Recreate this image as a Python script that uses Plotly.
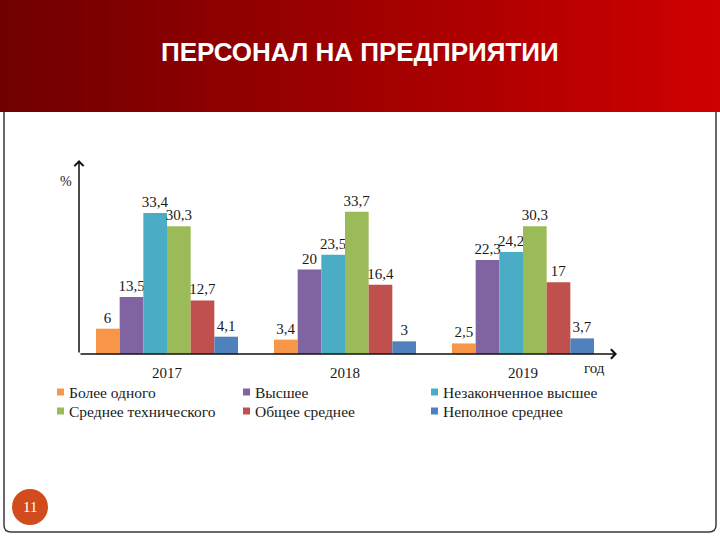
import plotly.graph_objects as go

# ---- data ----
years = ["2017", "2018", "2019"]
series_names = ["Более одного", "Высшее", "Незаконченное высшее",
                "Среднее технического", "Общее среднее", "Неполное среднее"]
values = [
    [6, 3.4, 2.5],
    [13.5, 20, 22.3],
    [33.4, 23.5, 24.2],
    [30.3, 33.7, 30.3],
    [12.7, 16.4, 17],
    [4.1, 3, 3.7],
]
title_text = "ПЕРСОНАЛ НА ПРЕДПРИЯТИИ"
page_number = "11"
y_label = "%"
x_label = "год"

# ---- style ----
colors = ["#f79646", "#8064a2", "#4bacc6", "#9bbb59", "#c0504d", "#4f81bd"]
W, H = 720, 540
L, R, T, B = 79, 617, 160, 354
SERIF = "Liberation Serif, Times New Roman, serif"

def px(x):
    return (x - L) / (R - L)

def py(y):
    return (B - y) / (B - T)

def fmt(v):
    s = ("%g" % v)
    return s.replace(".", ",")

fig = go.Figure()
for name, vals, col in zip(series_names, values, colors):
    fig.add_trace(go.Bar(
        x=years, y=vals, name=name, marker=dict(color=col, line=dict(width=0)),
        text=[fmt(v) for v in vals], textposition="outside",
        textfont=dict(family=SERIF, size=15, color="#1a1a1a"),
        cliponaxis=False, showlegend=False,
    ))

shapes = []
# border box with rounded bottom corners
bx0, bx1, by0, by1, r = 4, 716, 108, 532, 7
path = (f"M {px(bx0)},{py(by0)} L {px(bx0)},{py(by1 - r)} "
        f"Q {px(bx0)},{py(by1)} {px(bx0 + r)},{py(by1)} "
        f"L {px(bx1 - r)},{py(by1)} Q {px(bx1)},{py(by1)} {px(bx1)},{py(by1 - r)} "
        f"L {px(bx1)},{py(by0)}")
shapes.append(dict(type="path", xref="paper", yref="paper", path=path,
                   line=dict(color="#3a3a3a", width=1.5)))

# header gradient strips
N = 120
c0 = (112, 0, 0)
c1 = (206, 0, 0)
hdr_bottom = 112
for i in range(N):
    t = i / (N - 1)
    c = tuple(int(round(a + (b - a) * t)) for a, b in zip(c0, c1))
    x0 = i * W / N
    x1 = (i + 1) * W / N + 0.6
    shapes.append(dict(type="rect", xref="paper", yref="paper",
                       x0=px(x0), x1=px(x1), y0=py(hdr_bottom), y1=py(0),
                       fillcolor=f"rgb{c}", line=dict(width=0)))

# page number circle
shapes.append(dict(type="circle", xref="paper", yref="paper",
                   x0=px(12), x1=px(48), y0=py(525), y1=py(489),
                   fillcolor="#d14b1d", line=dict(width=0)))

def ann(x, y, text, font, xanchor="center", yanchor="middle"):
    return dict(xref="paper", yref="paper", x=px(x), y=py(y), text=text,
                showarrow=False, xanchor=xanchor, yanchor=yanchor, font=font)

annotations = []
annotations.append(ann(360, 52, f"<b>{title_text}</b>",
                       dict(family="Liberation Sans Narrow, Arial Narrow, Liberation Sans, sans-serif",
                            size=26, color="white")))
annotations.append(ann(30, 507, page_number, dict(family=SERIF, size=15, color="white")))
# axes arrows
annotations.append(dict(xref="paper", yref="paper", x=1, y=0, ax=-(R - L), ay=0,
                        text="", showarrow=True, arrowhead=4, arrowsize=1.2,
                        arrowwidth=1.5, arrowcolor="#111"))
annotations.append(dict(xref="paper", yref="paper", x=0, y=1, ax=0, ay=(B - T),
                        text="", showarrow=True, arrowhead=4, arrowsize=1.2,
                        arrowwidth=1.5, arrowcolor="#111"))
annotations.append(ann(66, 181, y_label, dict(family=SERIF, size=14, color="#1a1a1a")))
annotations.append(ann(594, 368, x_label, dict(family=SERIF, size=15, color="#1a1a1a")))

# manual legend
leg_cols = [57, 243, 431]
leg_rows = [392, 411]
for i, (name, col) in enumerate(zip(series_names, colors)):
    cx = leg_cols[i % 3]
    cy = leg_rows[i // 3]
    shapes.append(dict(type="rect", xref="paper", yref="paper",
                       x0=px(cx), x1=px(cx + 7), y0=py(cy + 3.5), y1=py(cy - 3.5),
                       fillcolor=col, line=dict(width=0)))
    annotations.append(ann(cx + 10, cy, name, dict(family=SERIF, size=15.5, color="#1a1a1a"),
                           xanchor="left"))

x_lo = (L - 167) / 178
x_hi = 2 + (R - 523) / 178
y_hi = (B - T) / 4.22

fig.update_layout(
    width=W, height=H,
    margin=dict(l=L, r=W - R, t=T, b=H - B, pad=0),
    paper_bgcolor="white", plot_bgcolor="white",
    barmode="group", bargap=36 / 178, bargroupgap=0,
    separators=", ",
    uniformtext=dict(minsize=15, mode="show"),
    shapes=shapes, annotations=annotations,
    xaxis=dict(range=[x_lo, x_hi], showgrid=False, zeroline=False, showline=False,
               ticks="", tickfont=dict(family=SERIF, size=15, color="#1a1a1a"),
               ticklabelstandoff=8, fixedrange=True),
    yaxis=dict(range=[0, y_hi], showgrid=False, zeroline=False, showline=False,
               showticklabels=False, ticks="", fixedrange=True),
    showlegend=False,
)

fig.write_html("out.html")
